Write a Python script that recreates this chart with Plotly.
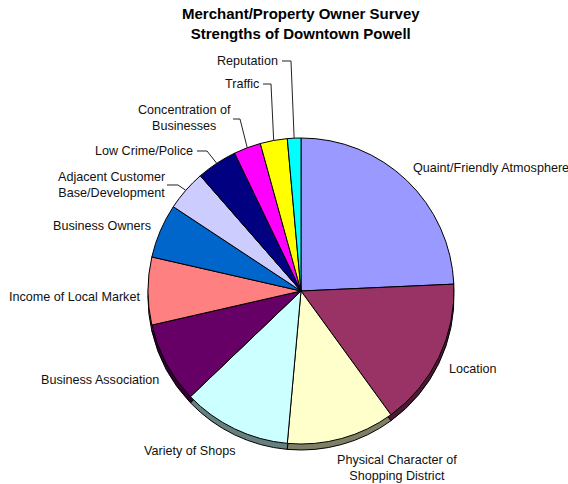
import math
import plotly.graph_objects as go

categories = ["Quaint/Friendly Atmosphere", "Location", "Physical Character of Shopping District",
              "Variety of Shops", "Business Association", "Income of Local Market",
              "Business Owners", "Adjacent Customer Base/Development", "Low Crime/Police",
              "Concentration of Businesses", "Traffic", "Reputation"]
counts = [17, 11, 8, 8, 6, 5, 4, 3, 3, 2, 2, 1]
colors = ["#9999FF", "#993366", "#FFFFCC", "#CCFFFF", "#660066", "#FF8080",
          "#0066CC", "#CCCCFF", "#000080", "#FF00FF", "#FFFF00", "#00FFFF"]
label_text = ["Quaint/Friendly Atmosphere", "Location", "Physical Character of<br>Shopping District",
              "Variety of Shops", "Business Association", "Income of Local Market",
              "Business Owners", "Adjacent Customer<br>Base/Development", "Low Crime/Police",
              "Concentration of<br>Businesses", "Traffic", "Reputation"]

W, H = 568, 484
CX, CY, R = 301, 291, 153
DEPTH = 6
FONT = "Liberation Sans, Arial, sans-serif"


def darker(hex_color, f=0.5):
    h = hex_color.lstrip("#")
    r, g, b = (int(h[i:i + 2], 16) for i in (0, 2, 4))
    return "#%02X%02X%02X" % (int(r * f), int(g * f), int(b * f))


def px(x, y):
    # page pixel -> paper coordinates
    return x / W, 1 - y / H


def domain(cy):
    x0, y1 = px(CX - R, cy - R)
    x1, y0 = px(CX + R, cy + R)
    return dict(x=[x0, x1], y=[y0, y1])


fig = go.Figure()
# depth (shadow) layer
fig.add_trace(go.Pie(values=counts, labels=categories, sort=False, direction="clockwise",
                     rotation=0, textinfo="none", hoverinfo="skip", showlegend=False,
                     marker=dict(colors=[darker(c) for c in colors], line=dict(color="black", width=1)),
                     domain=domain(CY + DEPTH)))
# top surface
fig.add_trace(go.Pie(values=counts, labels=categories, sort=False, direction="clockwise",
                     rotation=0, textinfo="none", showlegend=False,
                     marker=dict(colors=colors, line=dict(color="black", width=1)),
                     domain=domain(CY)))

# label placement (pixel positions of text), anchor, and optional leader elbow
label_pos = {
    "Quaint/Friendly Atmosphere": (411, 168, "left", None),
    "Location": (447, 369, "left", None),
    "Physical Character of Shopping District": (397, 468, "center", None),
    "Variety of Shops": (142, 451, "left", None),
    "Business Association": (161, 380, "right", None),
    "Income of Local Market": (142, 297, "right", None),
    "Business Owners": (153, 226, "right", None),
    "Adjacent Customer Base/Development": (111, 184.5, "center", ((167, 185), (178, 185))),
    "Low Crime/Police": (195, 151, "right", ((197, 151), (207, 151))),
    "Concentration of Businesses": (184, 118.5, "center", ((233, 119), (240, 119))),
    "Traffic": (261, 84, "right", ((263, 84), (271, 84))),
    "Reputation": (280, 61, "right", ((282, 61), (291, 61))),
}

total = sum(counts)
cum = 0
for cat, v, txt in zip(categories, counts, label_text):
    mid = (cum + v / 2) / total * 2 * math.pi
    cum += v
    ax_, ay_ = CX + R * math.sin(mid), CY - R * math.cos(mid)
    x, y, anchor, leader = label_pos[cat]
    fx, fy = px(x, y)
    fig.add_annotation(x=fx, y=fy, xref="paper", yref="paper", text=txt, showarrow=False,
                       xanchor=anchor, yanchor="middle", align="center",
                       font=dict(family=FONT, size=12.6, color="#111"))
    if leader:
        (x0, y0), (x1, y1) = leader
        p0, p1, p2 = px(x0, y0), px(x1, y1), px(ax_, ay_)
        path = "M %f %f L %f %f L %f %f" % (p0[0], p0[1], p1[0], p1[1], p2[0], p2[1])
        fig.add_shape(type="path", path=path, xref="paper", yref="paper",
                      line=dict(color="#222", width=1))

tx, ty = px(301, 23)
fig.add_annotation(x=tx, y=ty, xref="paper", yref="paper",
                   text="<b>Merchant/Property Owner Survey<br>Strengths of Downtown Powell</b>",
                   showarrow=False, xanchor="center", yanchor="middle", align="center",
                   font=dict(family=FONT, size=15, color="black"))

fig.update_layout(width=W, height=H, margin=dict(l=0, r=0, t=0, b=0),
                  paper_bgcolor="white", plot_bgcolor="white")
fig.write_html("out.html", config={"displayModeBar": False},
               post_script="document.body.style.margin='0';")
